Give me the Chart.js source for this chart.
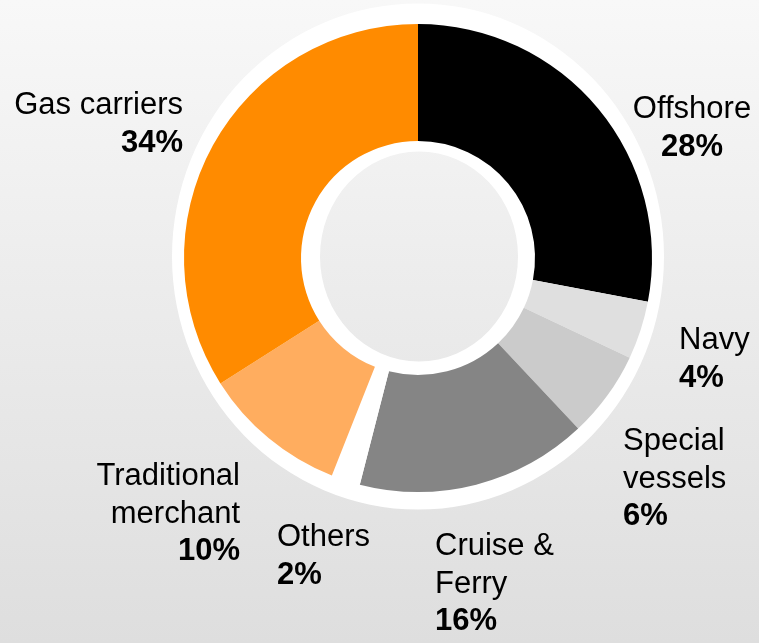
<!DOCTYPE html>
<html>
<head>
<meta charset="utf-8">
<script src="https://cdn.jsdelivr.net/npm/chart.js@4.4.1/dist/chart.umd.min.js"></script>
<style>
  html, body { margin: 0; padding: 0; }
  body {
    width: 759px; height: 643px; overflow: hidden;
    background: linear-gradient(to bottom, #f8f8f8 0%, #ececec 45%, #dedede 100%);
  }
  canvas { display: block; }
</style>
</head>
<body>
<canvas id="fleetChart" width="759" height="643"></canvas>
<script>
// segment data, clockwise from 12 o'clock
const categories = ["Offshore", "Navy", "Special vessels", "Cruise & Ferry", "Others", "Traditional merchant", "Gas carriers"];
const shares = [28, 4, 6, 16, 2, 10, 34];
const labelLines = [["Offshore"], ["Navy"], ["Special", "vessels"], ["Cruise &", "Ferry"], ["Others"], ["Traditional", "merchant"], ["Gas carriers"]];

const segmentColors = ["#000000", "#dfdfdf", "#cbcbcb", "#858585", "#ffffff", "#ffad5f", "#ff8b00"];

// label anchor relative to the doughnut centre: [dx, dy of first baseline, text align]
const labelAnchors = [
    [274, -140, "center"],
    [261, 91, "left"],
    [205, 192, "left"],
    [17, 297, "left"],
    [-141, 288, "left"],
    [-178, 227, "right"],
    [-235, -144, "right"]
];
const lineHeight = 37.5;
const labelFont = '31px "Liberation Sans", Arial, sans-serif';
const valueFont = 'bold 31px "Liberation Sans", Arial, sans-serif';

// white ring behind the segments (outer rim + inner rim round the hole),
// slightly taller than wide like in the original slide
const whiteRing = {
    id: "whiteRing",
    beforeDatasetsDraw(chart) {
        const arc = chart.getDatasetMeta(0).data[0];
        if (!arc) return;
        const ctx = chart.ctx;
        ctx.save();
        ctx.beginPath();
        ctx.ellipse(arc.x, arc.y - 1.5, arc.outerRadius + 12, arc.outerRadius + 19, 0, 0, Math.PI * 2);
        ctx.ellipse(arc.x + 1, arc.y - 1.5, arc.innerRadius - 18, arc.innerRadius - 12, 0, 0, Math.PI * 2, true);
        ctx.fillStyle = "#ffffff";
        ctx.fill("evenodd");
        ctx.restore();
    }
};

// category names and bold percentages
const segmentLabels = {
    id: "segmentLabels",
    afterDatasetsDraw(chart) {
        const arcs = chart.getDatasetMeta(0).data;
        const ctx = chart.ctx;
        ctx.save();
        ctx.fillStyle = "#000000";
        ctx.textBaseline = "alphabetic";
        arcs.forEach((arc, i) => {
            const [dx, dy, align] = labelAnchors[i];
            const x = arc.x + dx;
            let y = arc.y + dy;
            ctx.textAlign = align;
            ctx.font = labelFont;
            labelLines[i].forEach(line => {
                ctx.fillText(line, x, y);
                y += lineHeight;
            });
            ctx.font = valueFont;
            ctx.fillText(shares[i] + "%", x, y);
        });
        ctx.restore();
    }
};

const ctx = document.getElementById("fleetChart").getContext("2d");
const fleetChart = new Chart(ctx, {
    type: "doughnut",
    data: {
        labels: categories,
        datasets: [{
            data: shares,
            backgroundColor: segmentColors,
            borderWidth: 0,
            hoverOffset: 0
        }]
    },
    options: {
        responsive: false,
        animation: false,
        cutout: "50%",
        layout: { padding: { left: 184, right: 107, top: 24, bottom: 151 } },
        plugins: {
            legend: { display: false },
            tooltip: { enabled: false }
        }
    },
    plugins: [whiteRing, segmentLabels]
});
</script>
</body>
</html>
